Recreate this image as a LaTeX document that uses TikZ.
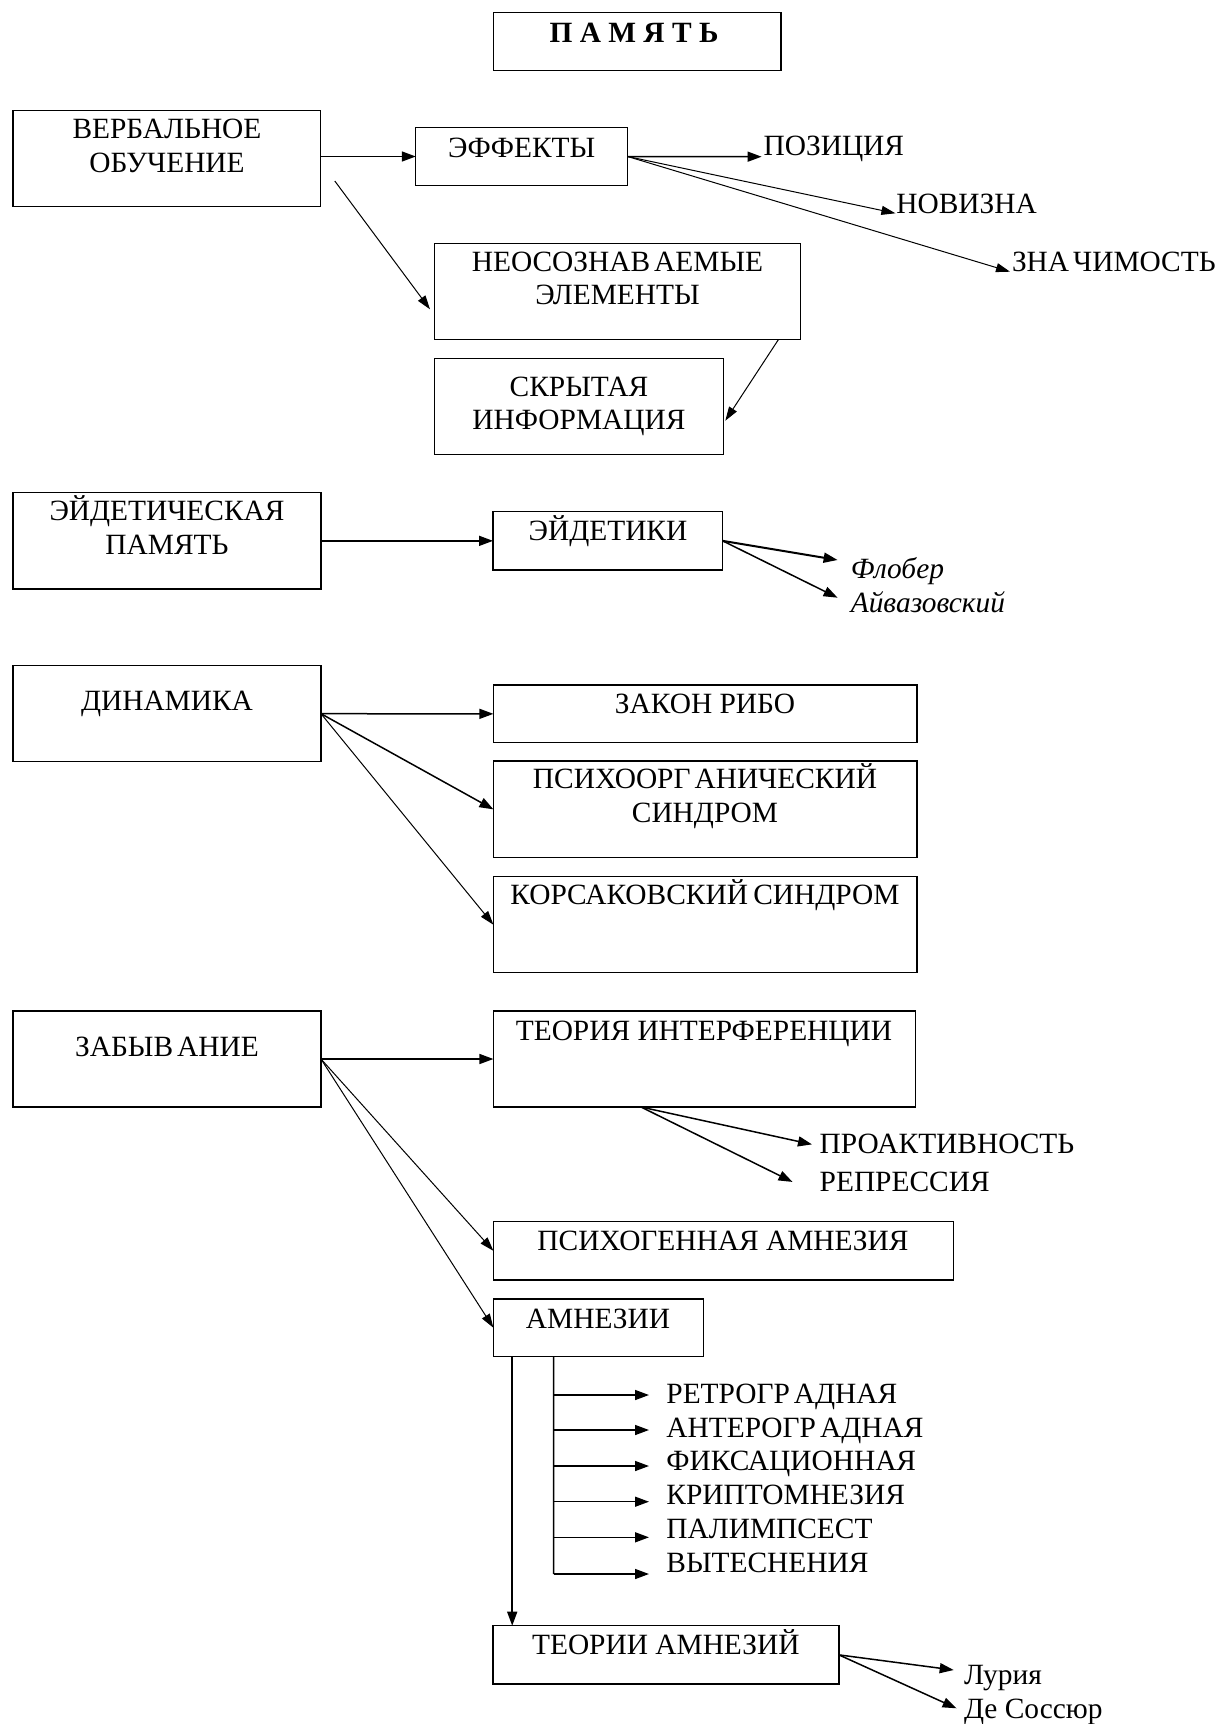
\documentclass[tikz,border=0pt]{standalone}
\usepackage{fontspec}
\setmainfont{Liberation Serif}
\usetikzlibrary{arrows.meta,calc}
\tikzset{
  box/.style={draw, line width=1.3pt, inner sep=0pt, outer sep=0pt, anchor=north west, rectangle},
  lbl/.style={inner sep=0pt, outer sep=0pt, anchor=base, font=\fontsize{29.4}{34}\selectfont},
  lblw/.style={lbl, anchor=base west},
  arr/.style={line width=1.5pt, -{Triangle[length=14pt,width=10pt]}},
  tarr/.style={line width=1pt, -{Triangle[length=14pt,width=9pt]}},
  trunk/.style={line width=1.3pt},
}
\newcommand{\gp}{\kern4pt}
\begin{document}
\begin{tikzpicture}[x=1pt,y=-1pt]
\useasboundingbox (0,0) rectangle (1218,1724);
% boxes
\node[box, minimum width=287.6pt, minimum height=58.4pt] (pam) at (493.4,12.3) {};
\node[box, minimum width=307.6pt, minimum height=96pt] (verb) at (13,110.7) {};
\node[box, minimum width=211.8pt, minimum height=57.6pt] (eff) at (415.8,127.7) {};
\node[box, minimum width=365.4pt, minimum height=96pt] (neo) at (434.8,243.3) {};
\node[box, minimum width=288.6pt, minimum height=96pt] (skr) at (434.8,358.3) {};
\node[box, minimum width=308pt, minimum height=96.3pt] (eid) at (13,492.7) {};
\node[box, minimum width=229.6pt, minimum height=58.3pt] (eidk) at (493,511.7) {};
\node[box, minimum width=308pt, minimum height=96pt] (din) at (13,665.7) {};
\node[box, minimum width=423.5pt, minimum height=57.7pt] (zak) at (493.4,685) {};
\node[box, minimum width=423.5pt, minimum height=96.7pt] (psi) at (493.4,761) {};
\node[box, minimum width=423.5pt, minimum height=96pt] (kor) at (493.4,876.7) {};
\node[box, minimum width=308pt, minimum height=96pt] (zab) at (13,1011) {};
\node[box, minimum width=422pt, minimum height=96pt] (teo) at (493.4,1011) {};
\node[box, minimum width=460pt, minimum height=58.4pt] (psg) at (493.4,1221.6) {};
\node[box, minimum width=209.8pt, minimum height=57.5pt] (amn) at (493.4,1299) {};
\node[box, minimum width=345.9pt, minimum height=58.3pt] (tam) at (493,1625.7) {};
% texts
\node[lbl, font=\fontsize{29.4}{34}\selectfont\bfseries] (pamT) at (634,42.7) {П А М Я Т Ь};
\node[lbl] (verbT1) at (167,138.3) {ВЕРБАЛЬНОЕ};
\node[lbl] (verbT2) at (167,172.8) {ОБУЧЕНИЕ};
\node[lbl] (effT) at (521.7,157) {ЭФФЕКТЫ};
\node[lblw] (poz) at (763.6,155) {ПОЗИЦИЯ};
\node[lblw] (nov) at (896.4,213.3) {НОВИЗНА};
\node[lblw] (zna) at (1012,271) {ЗНА\gp ЧИМОСТЬ};
\node[lbl] (neoT1) at (617.5,271.2) {НЕОСОЗНАВ\gp АЕМЫЕ};
\node[lbl] (neoT2) at (617.5,304.5) {ЭЛЕМЕНТЫ};
\node[lbl] (skrT1) at (579,396.2) {СКРЫТАЯ};
\node[lbl] (skrT2) at (579,429.5) {ИНФОРМАЦИЯ};
\node[lbl] (eidT1) at (167,520.2) {ЭЙДЕТИЧЕСКАЯ};
\node[lbl] (eidT2) at (167,554.5) {ПАМЯТЬ};
\node[lbl] (eidkT) at (608,540.5) {ЭЙДЕТИКИ};
\node[lblw, font=\fontsize{29.4}{34}\selectfont\itshape] (flo) at (850.8,578.8) {Флобер};
\node[lblw, font=\fontsize{29.4}{34}\selectfont\itshape] (aiv) at (850.8,612.8) {Айвазовский};
\node[lbl] (dinT) at (167,710.2) {ДИНАМИКА};
\node[lbl] (zakT) at (705,713.2) {ЗАКОН РИБО};
\node[lbl] (psiT1) at (705,788.8) {ПСИХООРГ\gp АНИЧЕСКИЙ};
\node[lbl] (psiT2) at (705,822.8) {СИНДРОМ};
\node[lbl] (korT) at (705,904.5) {КОРСАКОВСКИЙ\kern-2pt{} СИНДРОМ};
\node[lbl] (zabT) at (167,1056.5) {ЗАБЫВ\gp АНИЕ};
\node[lbl] (teoT) at (704,1040.7) {ТЕОРИЯ ИНТЕРФЕРЕНЦИИ};
\node[lblw] (pro) at (819.7,1153) {ПРОАКТИВНОСТЬ};
\node[lblw] (rep) at (819.7,1191.4) {РЕПРЕССИЯ};
\node[lbl] (psgT) at (723,1250.8) {ПСИХОГЕННАЯ АМНЕЗИЯ};
\node[lbl] (amnT) at (598,1328.5) {АМНЕЗИИ};
\node[lblw] (l1) at (666.4,1403.5) {РЕТРОГР\gp АДНАЯ};
\node[lblw] (l2) at (666.4,1437.2) {АНТЕРОГР\gp АДНАЯ};
\node[lblw] (l3) at (666.4,1470.9) {ФИКСАЦИОННАЯ};
\node[lblw] (l4) at (666.4,1504.6) {КРИПТОМНЕЗИЯ};
\node[lblw] (l5) at (666.4,1538.3) {ПАЛИМПСЕСТ};
\node[lblw] (l6) at (666.4,1572) {ВЫТЕСНЕНИЯ};
\node[lbl] (tamT) at (665.8,1654.5) {ТЕОРИИ АМНЕЗИЙ};
\node[lblw] (lur) at (964,1684.5) {Лурия};
\node[lblw] (des) at (964,1718) {Де Соссюр};
% connectors
\draw[arr] (verb.east |- eff.west) -- (eff.west);
\draw[arr] (eff.east) -- ($(poz.base west)+(-2,1.7)$);
\draw[tarr] (eff.east) -- ($(nov.base west)+(-1,0)$);
\draw[tarr] (eff.east) -- ($(zna.base west)+(-2,0.7)$);
\draw[tarr] ($(verb.south east)+(14.2,-25.7)$) -- ($(neo.west)+(-4.8,18)$);
\draw[tarr] ($(neo.south east)+(-21.6,0)$) -- ($(skr.east)+(1.9,14.4)$);
\draw[arr] (eid.east) -- (eidk.west);
\draw[arr, line width=2pt] (eidk.east) -- ($(flo.base west)+(-13.2,-18.8)$);
\draw[arr] (eidk.east) -- ($(aiv.base west)+(-13.2,-15.1)$);
\draw[arr] (din.east) -- (zak.west);
\draw[arr] (din.east) -- (psi.west);
\draw[tarr] (din.east) -- (kor.west);
\draw[arr] (zab.east) -- (teo.west);
\draw[tarr] (zab.east) -- (psg.west);
\draw[tarr] (zab.east) -- (amn.west);
\draw[arr] ($(teo.south)+(-63.4,0)$) -- ($(pro.base west)+(-7.7,-8.6)$);
\draw[arr] ($(teo.south)+(-63.4,0)$) -- ($(rep.base west)+(-27.2,-9.5)$);
\draw[arr] ($(amn.south west)+(18.8,0)$) -- ($(tam.north west)+(19.2,0)$);
\coordinate (tr0) at ($(amn.south west)+(60.2,0)$);
\coordinate (tr1) at (553.6,1574);
\draw[trunk] (tr0) -- (tr1);
\coordinate (a1) at (649,1395);
\coordinate (a2) at (649,1430);
\coordinate (a3) at (649,1466);
\coordinate (a4) at (649,1501.7);
\coordinate (a5) at (649,1537.3);
\coordinate (a6) at (649,1574);
\foreach \i in {1,...,6} {\draw[arr] (tr0 |- a\i) -- (a\i);}
\draw[arr] (tam.east) -- ($(lur.base west)+(-10.3,-14.5)$);
\draw[arr] (tam.east) -- ($(des.base west)+(-7.4,-9.7)$);
\end{tikzpicture}
\end{document}
